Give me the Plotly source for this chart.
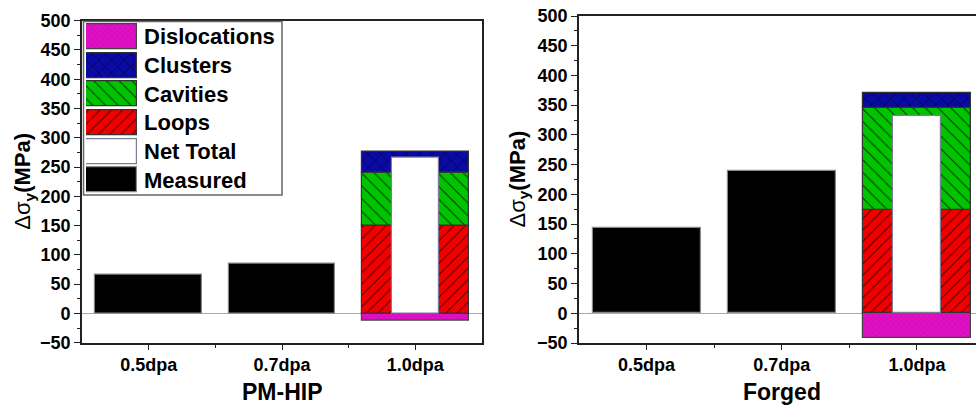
import plotly.graph_objects as go

# ---------------- data ----------------
categories = ["0.5dpa", "0.7dpa", "1.0dpa"]

# PM-HIP panel
pm_measured = [67, 85]            # 0.5dpa, 0.7dpa
pm_loops = 150
pm_cavities = 90
pm_clusters = 37
pm_dislocations = -13
pm_net_total = 266

# Forged panel
fg_measured = [144, 240]
fg_loops = 174
fg_cavities = 171
fg_clusters = 25
fg_dislocations = -41
fg_net_total = 332

panel_titles = ["PM-HIP", "Forged"]
y_title = "<span style='font-weight:normal'>Δσ</span><sub>y</sub>(MPa)"
legend_labels = ["Dislocations", "Clusters", "Cavities", "Loops", "Net Total", "Measured"]

# ---------------- styles ----------------
W, H = 976, 407
FONT = "Arial, Liberation Sans, sans-serif"

styles = {
    "Dislocations": dict(color="#E010C4", pattern=dict(shape="x", size=4, solidity=0.12,
                                                      fgcolor="#400040", fgopacity=0.35)),
    "Clusters": dict(color="#0A0AA6", pattern=dict(shape="x", size=9, solidity=0.12,
                                                  fgcolor="black", fgopacity=0.8)),
    "Cavities": dict(color="#00C400", pattern=dict(shape="\\", size=9, solidity=0.12,
                                                  fgcolor="black", fgopacity=0.7)),
    "Loops": dict(color="#F20000", pattern=dict(shape="/", size=8, solidity=0.12,
                                               fgcolor="black", fgopacity=0.7)),
    "Net Total": dict(color="white", pattern=None),
    "Measured": dict(color="black", pattern=None),
}
outline = {"Dislocations": "#444", "Clusters": "#333", "Cavities": "#333", "Loops": "#333",
           "Net Total": "#7a7f95", "Measured": "#888"}


def marker_for(name):
    s = styles[name]
    m = dict(color=s["color"], line=dict(color=outline[name], width=1.2))
    if s["pattern"] is not None:
        p = dict(s["pattern"])
        p["bgcolor"] = s["color"]
        m["pattern"] = p
    return m


fig = go.Figure()

idx = list(range(len(categories)))

panels = [
    dict(measured=pm_measured, loops=pm_loops, cav=pm_cavities, clu=pm_clusters,
         dis=pm_dislocations, net=pm_net_total, xa="x", ya="y"),
    dict(measured=fg_measured, loops=fg_loops, cav=fg_cavities, clu=fg_clusters,
         dis=fg_dislocations, net=fg_net_total, xa="x2", ya="y2"),
]

for p in panels:
    fig.add_trace(go.Bar(x=idx[:len(p["measured"])], y=p["measured"], width=0.8,
                         marker=marker_for("Measured"), xaxis=p["xa"], yaxis=p["ya"],
                         showlegend=False))
    xc = [idx[2]]
    fig.add_trace(go.Bar(x=xc, y=[p["dis"]], base=[0], width=0.8,
                         marker=marker_for("Dislocations"), xaxis=p["xa"], yaxis=p["ya"],
                         showlegend=False))
    fig.add_trace(go.Bar(x=xc, y=[p["loops"]], base=[0], width=0.8,
                         marker=marker_for("Loops"), xaxis=p["xa"], yaxis=p["ya"],
                         showlegend=False))
    fig.add_trace(go.Bar(x=xc, y=[p["cav"]], base=[p["loops"]], width=0.8,
                         marker=marker_for("Cavities"), xaxis=p["xa"], yaxis=p["ya"],
                         showlegend=False))
    fig.add_trace(go.Bar(x=xc, y=[p["clu"]], base=[p["loops"] + p["cav"]], width=0.8,
                         marker=marker_for("Clusters"), xaxis=p["xa"], yaxis=p["ya"],
                         showlegend=False))
    fig.add_trace(go.Bar(x=xc, y=[p["net"]], base=[0], width=0.35,
                         marker=marker_for("Net Total"), xaxis=p["xa"], yaxis=p["ya"],
                         showlegend=False))

# legend swatches drawn as bars on an auxiliary axis
for name in legend_labels:
    fig.add_trace(go.Bar(y=[name], x=[1], orientation="h", width=0.87, base=[0],
                         marker=marker_for(name), xaxis="x3", yaxis="y3",
                         showlegend=False, hoverinfo="skip"))


def px_x(v):
    return v / W


def px_y(v):
    return (H - v) / H


axis_common = dict(showline=True, linecolor="#222", linewidth=1.6, ticks="outside",
                   tickcolor="#222", tickwidth=1.3, showgrid=False, automargin=False,
                   tickfont=dict(family=FONT, size=18, color="black", weight="bold"))

xcommon = dict(axis_common, tickmode="array", tickvals=idx, ticktext=categories, ticklen=5,
               minor=dict(tickvals=[0.5, 1.5], ticklen=3, ticks="outside", tickcolor="#222"),
               zeroline=False, mirror=True)
xcommon["tickfont"] = dict(family=FONT, size=18, color="black", weight="bold")

ycommon = dict(axis_common, range=[-50, 500], dtick=50, tick0=0, ticklen=6,
               minor=dict(dtick=25, ticklen=3, ticks="outside", tickcolor="#222"),
               zeroline=True, zerolinecolor="#aaaaaa", zerolinewidth=1)

fig.update_layout(
    template="none",
    width=W, height=H,
    margin=dict(l=0, r=0, t=0, b=0, pad=0),
    paper_bgcolor="white", plot_bgcolor="rgba(0,0,0,0)",
    barmode="overlay", bargap=0,
    showlegend=False,
    xaxis=dict(xcommon, domain=[px_x(82), px_x(482)], range=[-0.5, 2.5], anchor="y"),
    yaxis=dict(ycommon, domain=[px_y(342.7), px_y(20.7)], anchor="x", mirror=True),
    xaxis2=dict(xcommon, domain=[px_x(579), 1.0], range=[-0.5, 2.437], anchor="y2"),
    yaxis2=dict(ycommon, domain=[px_y(343), px_y(16)], anchor="x2", mirror=False),
    xaxis3=dict(domain=[px_x(86), px_x(137)], range=[0, 1], visible=False, anchor="y3",
                fixedrange=True, automargin=False),
    yaxis3=dict(domain=[px_y(194.35), px_y(22.15)], anchor="x3", side="right",
                categoryorder="array", categoryarray=legend_labels, automargin=False,
                range=[len(legend_labels) - 0.5, -0.5], showline=False, ticks="",
                showgrid=False, zeroline=False, ticklabelstandoff=6,
                tickfont=dict(family=FONT, size=22, color="black", weight="bold")),
)

# legend border
fig.add_shape(type="rect", xref="paper", yref="paper",
              x0=px_x(83.5), x1=px_x(282), y0=px_y(195), y1=px_y(21.5),
              line=dict(color="#666", width=1.5), fillcolor="rgba(0,0,0,0)")

# axis titles
title_font = dict(family=FONT, size=22, color="black", weight="bold")
fig.add_annotation(text=y_title, xref="paper", yref="paper", x=px_x(24), y=px_y(181.7),
                   textangle=-90, showarrow=False, font=title_font,
                   xanchor="center", yanchor="middle")
fig.add_annotation(text=y_title, xref="paper", yref="paper", x=px_x(519), y=px_y(179.5),
                   textangle=-90, showarrow=False, font=title_font,
                   xanchor="center", yanchor="middle")
panel_font = dict(family=FONT, size=23, color="black", weight="bold")
fig.add_annotation(text=panel_titles[0], xref="paper", yref="paper", x=px_x(282), y=px_y(392),
                   showarrow=False, font=panel_font, xanchor="center", yanchor="middle")
fig.add_annotation(text=panel_titles[1], xref="paper", yref="paper", x=px_x(782), y=px_y(392),
                   showarrow=False, font=panel_font, xanchor="center", yanchor="middle")

fig.write_html("out.html",
               config={"displayModeBar": False},
               post_script="document.body.style.margin='0px';"
                           "document.body.style.overflow='hidden';")
